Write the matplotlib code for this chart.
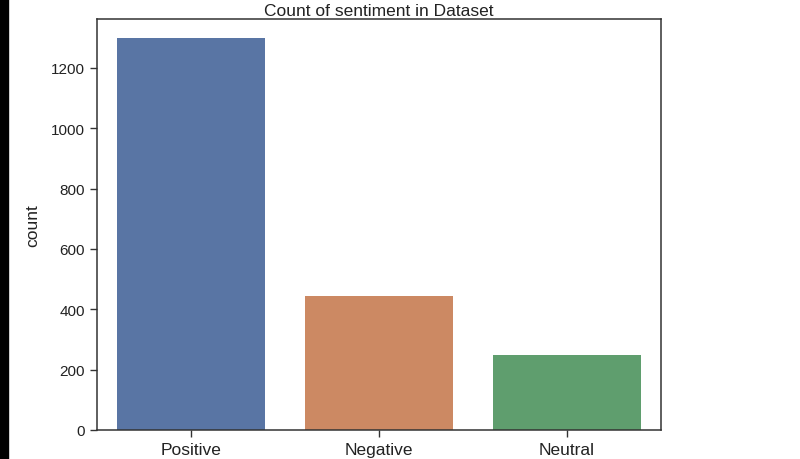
import matplotlib
matplotlib.use("Agg")
import matplotlib.pyplot as plt
from matplotlib.patches import Rectangle

# data
categories = ["Positive", "Negative", "Neutral"]
counts = [1298, 444, 249]
colors = ["#5975a4", "#cc8963", "#5f9e6e"]
yticks = [0, 200, 400, 600, 800, 1000, 1200]

plt.rcParams["font.family"] = ["Liberation Sans", "DejaVu Sans"]

fig = plt.figure(figsize=(8, 4.6), dpi=100)
ax = fig.add_axes([97 / 800, 1 - 431 / 460, 564 / 800, 411 / 460])

ax.bar(range(len(categories)), counts, width=0.79, color=colors)
ax.set_xlim(-0.5, 2.5)
ax.set_ylim(0, 1362)
ax.set_xticks(range(len(categories)))
ax.set_xticklabels(categories, fontsize=12.5, color="#222222")
ax.set_yticks(yticks)
ax.set_yticklabels([str(t) for t in yticks], fontsize=11, color="#222222")
ax.tick_params(length=5, width=1, color="#333333")
ax.set_ylabel("count", fontsize=12.5, color="#222222", labelpad=8)
ax.set_title("Count of sentiment in Dataset", fontsize=12.5, color="#222222", pad=3)
for s in ax.spines.values():
    s.set_color("#333333")
    s.set_linewidth(1.1)

# dark strip on the left edge of the screenshot
fig.patches.append(Rectangle((0, 0), 8 / 800, 1, transform=fig.transFigure,
                             color="black", zorder=0))

fig.savefig("out.png", dpi=100)
